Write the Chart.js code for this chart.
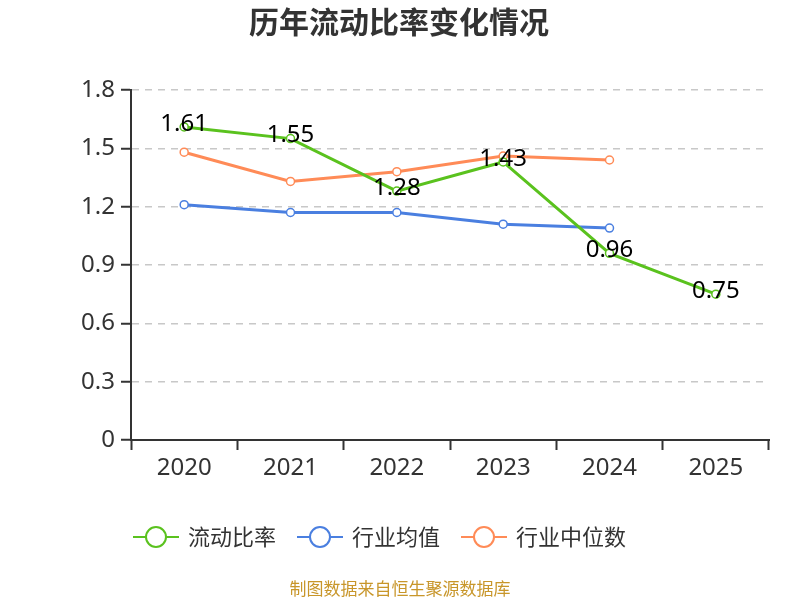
<!DOCTYPE html>
<html>
<head>
<meta charset="utf-8">
<script src="https://cdn.jsdelivr.net/npm/chart.js@4.4.0/dist/chart.umd.min.js"></script>
<style>
  html, body { margin: 0; padding: 0; background: #fff; }
  #wrap { width: 800px; height: 600px; position: relative; }
</style>
</head>
<body>
<div id="wrap"><canvas id="ratioChart" width="800" height="600"></canvas></div>
<script>
// === Data ===
const years = ["2020", "2021", "2022", "2023", "2024", "2025"];
const currentRatio = [1.61, 1.55, 1.28, 1.43, 0.96, 0.75];
const industryAvg = [1.21, 1.17, 1.17, 1.11, 1.09, null];
const industryMedian = [1.48, 1.33, 1.38, 1.46, 1.44, null];
const yTicks = [0, 0.3, 0.6, 0.9, 1.2, 1.5, 1.8];

const titleText = "历年流动比率变化情况";
const sourceText = "制图数据来自恒生聚源数据库";
const FONT = "'Noto Sans', 'Noto Sans CJK SC', sans-serif";
const CJK = "'Noto Sans CJK SC', 'Noto Sans', sans-serif";

(function () {
  // === Title / source / legend / value labels drawn on canvas ===
  const decor = {
    id: "decor",
    afterDatasetsDraw(chart) {
      const ctx = chart.ctx;
      ctx.save();
      // value labels for first series
      const meta = chart.getDatasetMeta(0);
      ctx.font = "24px " + FONT;
      ctx.fillStyle = "#000";
      ctx.textAlign = "center";
      ctx.textBaseline = "middle";
      meta.data.forEach((pt, i) => {
        ctx.fillText(currentRatio[i].toFixed(2), pt.x, pt.y - 3);
      });
      ctx.restore();
    },
    afterDraw(chart) {
      const ctx = chart.ctx;
      ctx.save();
      ctx.textBaseline = "middle";
      ctx.textAlign = "center";
      ctx.fillStyle = "#333";
      ctx.font = "bold 30px " + CJK;
      ctx.fillText(titleText, 399, 22);

      ctx.fillStyle = "#c8962a";
      ctx.font = "17px " + CJK;
      ctx.fillText(sourceText, 400, 589);

      // legend
      ctx.font = "22px " + CJK;
      ctx.textAlign = "left";
      const sets = chart.data.datasets;
      const lineW = 46, gapText = 9, gapItem = 21;
      let x = 133;
      const y = 537;
      sets.forEach((d) => {
        ctx.strokeStyle = d.borderColor;
        ctx.lineWidth = 2;
        ctx.beginPath();
        ctx.moveTo(x, y);
        ctx.lineTo(x + lineW, y);
        ctx.stroke();
        ctx.beginPath();
        ctx.arc(x + lineW / 2, y, 10, 0, Math.PI * 2);
        ctx.fillStyle = "#fff";
        ctx.fill();
        ctx.stroke();
        ctx.fillStyle = "#333";
        ctx.fillText(d.label, x + lineW + gapText, y);
        x += lineW + gapText + ctx.measureText(d.label).width + gapItem;
      });
      ctx.restore();
    }
  };

  const mkSet = (label, data, color) => ({
    label: label,
    data: data,
    borderColor: color,
    backgroundColor: "#fff",
    borderWidth: 3,
    pointRadius: 4,
    pointBorderWidth: 1.5,
    pointBackgroundColor: "#fff",
    pointBorderColor: color,
    tension: 0,
    spanGaps: false
  });

  new Chart(document.getElementById("ratioChart"), {
    type: "line",
    data: {
      labels: years,
      datasets: [
        mkSet("流动比率", currentRatio, "#5ac21e"),
        mkSet("行业均值", industryAvg, "#4a7fe0"),
        mkSet("行业中位数", industryMedian, "#ff8b57")
      ]
    },
    options: {
      responsive: false,
      animation: false,
      devicePixelRatio: 1,
      layout: { padding: { top: 90, right: 31, bottom: 100, left: 0 } },
      plugins: { legend: { display: false }, title: { display: false }, tooltip: { enabled: false } },
      scales: {
        x: {
          offset: true,
          afterFit: s => { s.height = 60; },
          grid: { offset: true, drawOnChartArea: false, drawTicks: true, tickLength: 10, tickColor: "#333", tickWidth: 2 },
          border: { display: true, color: "#333", width: 2 },
          ticks: { color: "#333", font: { size: 24, family: FONT }, padding: 4 }
        },
        y: {
          min: 0,
          max: 1.8,
          afterFit: s => { s.width = 131; },
          afterBuildTicks: s => { s.ticks = yTicks.map(v => ({ value: v })); },
          grid: { color: "#c8c8c8", lineWidth: 1.5, drawTicks: true, tickLength: 10, tickColor: "#333", tickWidth: 2, tickBorderDash: [] },
          border: { display: true, color: "#333", width: 2, dash: [7, 6] },
          ticks: {
            color: "#333",
            padding: 6,
            font: { size: 24, family: FONT },
            callback: v => (v === 0 ? "0" : v.toFixed(1))
          }
        }
      }
    },
    plugins: [decor]
  });
})();
</script>
</body>
</html>
